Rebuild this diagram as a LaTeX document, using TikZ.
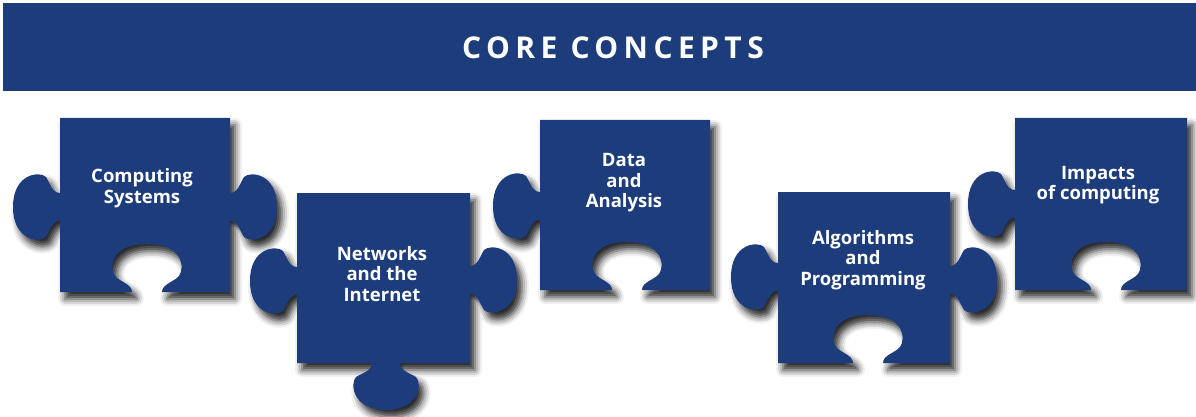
\documentclass[tikz,border=0pt]{standalone}
\usepackage{fontspec}
\setsansfont{Open Sans}
\newfontfamily\titlefont[LetterSpace=18]{Open Sans}
\usetikzlibrary{positioning,shadows.blur}
\definecolor{coreblue}{RGB}{28,60,124}

% jigsaw tab sticking out / slot cut in, at edge centre (#1,#2), turned by #3
\newcommand\knob[3]{{[shift={(#1,#2)},rotate=#3] -- (-14,0) .. controls (-14,-8) and (-24,-10) .. (-30,-14) .. controls (-36,-20) and (-34,-47) .. (0,-47) .. controls (34,-47) and (36,-20) .. (30,-14) .. controls (24,-10) and (14,-8) .. (14,0)}}
\newcommand\notch[3]{{[shift={(#1,#2)},rotate=#3] -- (-15,0) .. controls (-15,8) and (-27,10) .. (-32,16) .. controls (-38,24) and (-36,48) .. (0,48) .. controls (36,48) and (38,24) .. (32,16) .. controls (27,10) and (15,8) .. (15,0)}}

\begin{document}
\begin{tikzpicture}[x=1pt,y=-1pt,
    piece/.style={fill=coreblue,blur shadow={shadow xshift=5pt,shadow yshift=-7pt,shadow blur radius=7pt,shadow opacity=85}},%
    lbl/.style={text=white,align=center,inner sep=0pt,font=\sffamily\bfseries\fontsize{18.5}{20.5}\selectfont}]
    \useasboundingbox (0,0) rectangle (1196,417);

    \node[fill=coreblue,minimum width=1193pt,minimum height=88pt,inner sep=0pt,anchor=north west] (banner) at (3,3) {};
    \node[text=white,font=\titlefont\bfseries\fontsize{30}{34}\selectfont] (title) at (613,48) {CORE CONCEPTS};

    % the five pieces
    \fill[piece] (60,118) -- (230,118) \knob{230}{207}{-90} -- (230,292) \notch{147}{292}{180} -- (60,292) \knob{60}{207}{90} -- cycle;
    \fill[piece] (297,193) -- (470,193) \knob{470}{280}{-90} -- (470,363) \knob{386}{363}{180} -- (297,363) \knob{297}{281}{90} -- cycle;
    \fill[piece] (540,120) -- (710,120) -- (710,290) \notch{627}{290}{180} -- (540,290) \knob{540}{206}{90} -- cycle;
    \fill[piece] (778,192) -- (950,192) \knob{950}{280}{-90} -- (950,363) \notch{868}{363}{180} -- (778,363) \knob{778}{277}{90} -- cycle;
    \fill[piece] (1015,118) -- (1187,118) -- (1187,290) \notch{1106}{290}{180} -- (1015,290) \knob{1015}{204}{90} -- cycle;

    \node[lbl] (cs) at (142,188) {Computing\\Systems};
    \node[lbl] (net) at (382,274) {Networks\\and the\\Internet};
    \node[lbl] (data) at (624,183) {Data\\and\\Analysis};
    \node[lbl] (algo) at (863,260) {Algorithms\\and\\Programming};
    \node[lbl] (imp) at (1098,185) {Impacts\\of computing};
\end{tikzpicture}
\end{document}
